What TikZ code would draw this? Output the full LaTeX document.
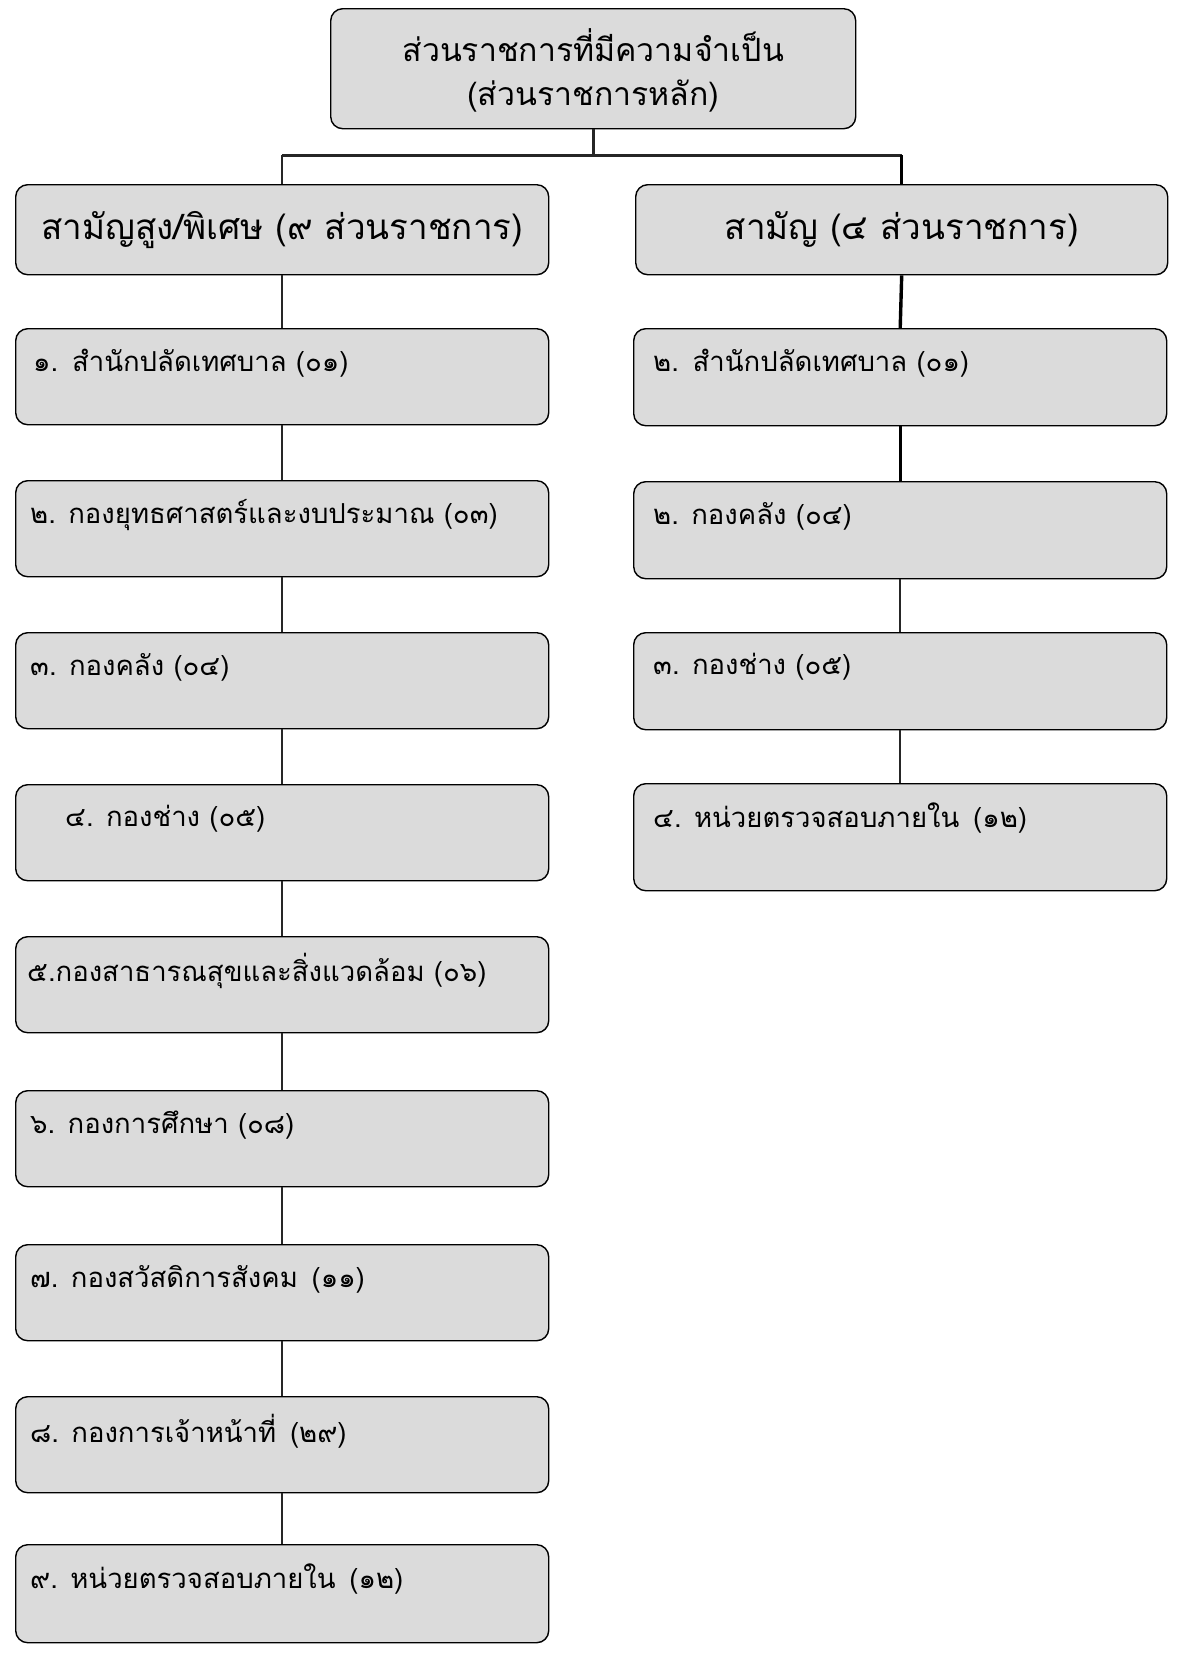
\documentclass[tikz,border=0pt]{standalone}
\usepackage{fontspec}
\newfontfamily\thaifont[Script=Thai]{Loma}
\definecolor{boxgray}{gray}{0.86}
\tikzset{
  box/.style={draw=black, line width=1.4pt, rounded corners=12pt, fill=boxgray, inner sep=0pt, anchor=north west},
  toptext/.style={font=\thaifont\fontsize{32}{44}\selectfont, inner sep=0pt, align=center},
  headtext/.style={font=\thaifont\fontsize{35}{40}\selectfont, inner sep=0pt},
  itemtext/.style={font=\thaifont\fontsize{27.5}{32}\selectfont, inner sep=0pt, anchor=west},
  connL/.style={draw=black!85, line width=2.4pt},
  connR/.style={draw=black, line width=3.4pt},
  connBar/.style={draw=black!85, line width=3pt}
}
\newcommand{\orgbox}[7]{%
  \node[box, minimum width=#4pt, minimum height=#5pt] (#1) at (#2,#3) {};
  \node[itemtext] (#1t) at ([xshift=#6pt, yshift=-35pt]#1.north west) {#7};
}
\newcommand{\gap}{\hspace{0.5em}}
\begin{document}
\begin{tikzpicture}[x=1pt,y=-1pt]
\fill[white] (0,0) rectangle (1176,1658);
\useasboundingbox (0,0) rectangle (1176,1658);

% top box
\node[box, minimum width=525pt, minimum height=120pt] (top) at (330,8) {};
\node[toptext] (topt) at ([yshift=-62pt]top.north) {ส่วนราชการที่มีความจำเป็น\\(ส่วนราชการหลัก)};

% headers
\node[box, minimum width=533pt, minimum height=90pt] (hl) at (15,184) {};
\node[headtext] (hlt) at (hl.center) {สามัญสูง/พิเศษ (๙ ส่วนราชการ)};
\node[box, minimum width=532pt, minimum height=90pt] (hr) at (635,184) {};
\node[headtext] (hrt) at (hr.center) {สามัญ (๔ ส่วนราชการ)};

\coordinate (bar) at (0,155);

% left column
\orgbox{l1}{15}{328}{533}{96}{18}{๑.\gap สำนักปลัดเทศบาล (๐๑)}
\orgbox{l2}{15}{480}{533}{96}{15}{๒. กองยุทธศาสตร์และงบประมาณ (๐๓)}
\orgbox{l3}{15}{632}{533}{96}{15}{๓. กองคลัง (๐๔)}
\orgbox{l4}{15}{784}{533}{96}{50}{๔. กองช่าง (๐๕)}
\orgbox{l5}{15}{936}{533}{96}{12}{๕.กองสาธารณสุขและสิ่งแวดล้อม (๐๖)}
\orgbox{l6}{15}{1090}{533}{96}{15}{๖. กองการศึกษา (๐๘)}
\orgbox{l7}{15}{1244}{533}{96}{15}{๗. กองสวัสดิการสังคม\gap (๑๑)}
\orgbox{l8}{15}{1396}{533}{96}{15}{๘. กองการเจ้าหน้าที่\gap (๒๙)}
\orgbox{l9}{15}{1544}{533}{98}{15}{๙. หน่วยตรวจสอบภายใน\gap (๑๒)}

% right column
\orgbox{r1}{633}{328}{533}{97}{20}{๒.\gap สำนักปลัดเทศบาล (๐๑)}
\orgbox{r2}{633}{481}{533}{97}{20}{๒. กองคลัง (๐๔)}
\orgbox{r3}{633}{632}{533}{97}{20}{๓. กองช่าง (๐๕)}
\orgbox{r4}{633}{783}{533}{107}{20}{๔. หน่วยตรวจสอบภายใน\gap (๑๒)}

% connectors
\draw[connBar] (top.south) -- (top.south |- bar);
\draw[connBar] (hl.north |- bar) -- (hr.north |- bar);
\draw[connL] (hl.north) -- (hl.north |- bar);
\draw[connR] (hr.north) -- (hr.north |- bar);

\draw[connL] (hl.south) -- (l1.north);
\draw[connL] (l1.south) -- (l2.north);
\draw[connL] (l2.south) -- (l3.north);
\draw[connL] (l3.south) -- (l4.north);
\draw[connL] (l4.south) -- (l5.north);
\draw[connL] (l5.south) -- (l6.north);
\draw[connL] (l6.south) -- (l7.north);
\draw[connL] (l7.south) -- (l8.north);
\draw[connL] (l8.south) -- (l9.north);

\draw[connR] (hr.south) -- (r1.north);
\draw[connR] (r1.south) -- (r2.north);
\draw[connL] (r2.south) -- (r3.north);
\draw[connL] (r3.south) -- (r4.north);
\end{tikzpicture}
\end{document}
